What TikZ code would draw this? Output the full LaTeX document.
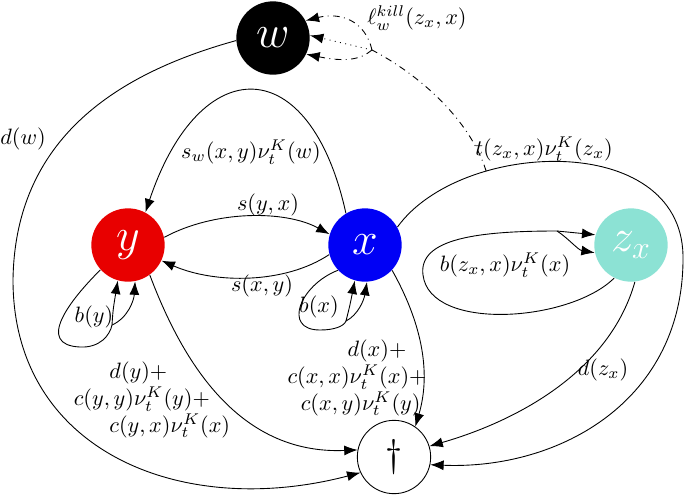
\documentclass[tikz,border=0pt]{standalone}
\usepackage{tikz}
\usetikzlibrary{arrows.meta}

\definecolor{yred}{RGB}{232,0,0}
\definecolor{xblue}{RGB}{0,0,245}
\definecolor{zteal}{RGB}{140,226,212}

\begin{document}
\begin{tikzpicture}[x=0.45pt, y=-0.45pt, >={Latex[length=6pt,width=4.5pt]},
  state/.style={circle, minimum size=33pt, inner sep=0pt, font=\huge, text=white},
  rate/.style={inner sep=0pt, align=left},
  kill/.style={dash dot, ->}]
\useasboundingbox (0,0) rectangle (685,495);

% states
\node[state, fill=black] (w) at (273,38) {$w$};
\node[state, fill=yred] (y) at (128,245) {$y$};
\node[state, fill=xblue] (x) at (365,245) {$x$};
\node[state, fill=zteal] (z) at (631,245) {$z_x$};
\node[state, draw=black, fill=white, text=black, font=\LARGE] (dag) at (394,457) {$\dagger$};

% death of w
\draw[->] (w.184) .. controls (130,70) and (15,130) .. (13,280)
  .. controls (13,450) and (180,520) .. (dag.205);
\node (ldw) at (23,139) {$d(w)$};

% moves between x and y
\draw[->] (x.121) .. controls (310,50) and (200,50) .. (y.62);
\node (lsw) at (251,152) {$s_w(x,y)\nu_t^K(w)$};
\draw[->] (y.12) .. controls (215,210) and (285,210) .. (x.163);
\node (lsyx) at (268,205) {$s(y,x)$};
\draw[->] (x.195) .. controls (285,284) and (215,284) .. (y.-25);
\node (lsxy) at (262,286) {$s(x,y)$};

% births
\draw (y.222) .. controls (70,300) and (35,345) .. (80,347)
  .. controls (100,348) and (110,335) .. (112,325) coordinate (yb);
\draw[->] (yb) .. controls (113,310) .. (y.254);
\draw[->] (yb) .. controls (128,318) and (134,300) .. (y.281);
\node (lby) at (94,317) {$b(y)$};

\draw (x.223) .. controls (300,285) and (282,330) .. (320,330)
  .. controls (335,330) and (344,326) .. (346,321) coordinate (xb);
\draw[->] (xb) .. controls (350,305) .. (x.254);
\draw[->] (xb) .. controls (358,315) and (364,300) .. (x.273);
\node (lbx) at (319,307) {$b(x)$};

\draw[->] (z.243) .. controls (570,322) and (430,332) .. (423,275)
  .. controls (418,238) and (480,231) .. (557,231) coordinate (zb) -- (z.164);
\draw[->] (zb) .. controls (568,238) and (578,250) .. (z.192);
\node (lbz) at (505,265) {$b(z_x,x)\nu_t^K(x)$};

% deaths
\draw[->] (y.306) .. controls (180,355) and (235,455) .. (dag.169);
\node[rate] (ldy) at (152,400) {\hspace*{16pt}$d(y)+$\\
  $c(y,y)\nu_t^K(y)+$\\ \hspace*{16pt}$c(y,x)\nu_t^K(x)$};

\draw[->] (x.317) .. controls (420,320) and (432,370) .. (dag.55);
\node[rate] (ldx) at (357,378) {\hspace*{27pt}$d(x)+$\\
  $c(x,x)\nu_t^K(x)+$\\ \hspace*{6pt}$c(x,y)\nu_t^K(y)$};

\draw[->] (z.276) .. controls (610,370) and (520,420) .. (dag.17);
\node (ldz) at (603,370) {$d(z_x)$};

% transfer, with killing of w
\draw[->] (x.29) .. controls (460,140) and (680,130) .. (683,255) coordinate[pos=.3] (tk)
  .. controls (685,400) and (560,470) .. (dag.348);
\node (lt) at (544,149) {$t(z_x,x)\nu_t^K(z_x)$};

\draw[dash dot] (tk) .. controls (470,120) and (420,75) .. (372,50) coordinate (kj);
\draw[kill] (kj) .. controls (365,20) and (340,12) .. (w.28);
\draw[dotted, ->] (kj) -- (w.4);
\draw[kill] (kj) .. controls (360,60) and (345,62) .. (w.-26);
\node (lk) at (417,18) {$\ell_w^{kill}(z_x,x)$};

\end{tikzpicture}
\end{document}
